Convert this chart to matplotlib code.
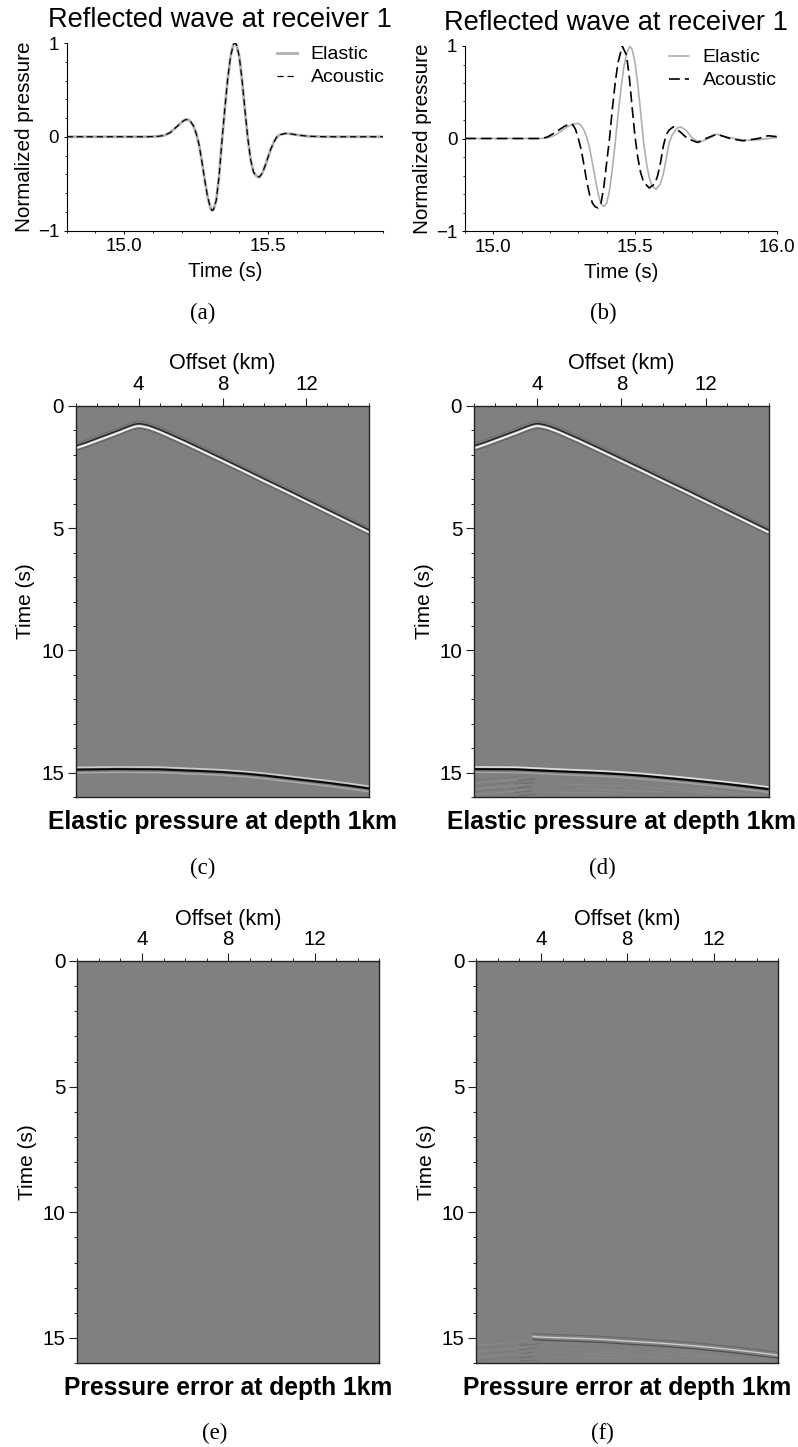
import matplotlib
matplotlib.use('Agg')
import matplotlib.pyplot as plt
from matplotlib.ticker import MultipleLocator, FixedLocator

plt.rcParams['font.family'] = ['Liberation Sans', 'DejaVu Sans']

# waveforms (a) and (b)
time_a = [14.80, 14.90, 15.00, 15.08, 15.10, 15.12, 15.14, 15.16, 15.18, 15.20, 15.21, 15.22, 15.23, 15.24, 15.25, 15.26,
          15.27, 15.28, 15.29, 15.30, 15.305, 15.31, 15.32, 15.33, 15.34, 15.35, 15.36, 15.37, 15.38, 15.385, 15.39,
          15.40, 15.41, 15.42, 15.43, 15.44, 15.45, 15.46, 15.47, 15.48, 15.49, 15.50, 15.51, 15.52, 15.53, 15.54,
          15.56, 15.58, 15.60, 15.64, 15.70, 15.90]
elastic_a = [0, 0, 0, 0, 0.002, 0.005, 0.015, 0.045, 0.10, 0.155, 0.178, 0.185, 0.165, 0.12, 0.04, -0.08,
             -0.26, -0.46, -0.64, -0.76, -0.786, -0.78, -0.68, -0.42, -0.04, 0.30, 0.62, 0.86, 0.985, 1.0, 0.985,
             0.86, 0.60, 0.28, -0.02, -0.25, -0.38, -0.42, -0.43, -0.39, -0.31, -0.22, -0.13, -0.06, -0.005, 0.02,
             0.035, 0.03, 0.02, 0.005, 0, 0]
acoustic_a = list(elastic_a)

time_b_el = [14.90, 15.00, 15.10, 15.17, 15.20, 15.22, 15.24, 15.26, 15.28, 15.30, 15.31, 15.32, 15.33, 15.34, 15.35, 15.36, 15.37, 15.38,
             15.39, 15.40, 15.41, 15.42, 15.43, 15.44, 15.45, 15.46, 15.47, 15.482, 15.49, 15.50, 15.51, 15.52, 15.53, 15.54,
             15.55, 15.56, 15.574, 15.59, 15.60, 15.61, 15.62, 15.63, 15.64, 15.65, 15.661, 15.68, 15.70, 15.726, 15.76, 15.788, 15.82,
             15.85, 15.894, 15.94, 15.99, 16.0]
elastic_b = [0, 0, 0, 0, 0.015, 0.04, 0.08, 0.125, 0.155, 0.163, 0.14, 0.09, 0.01, -0.11, -0.27, -0.44, -0.60, -0.71,
             -0.736, -0.70, -0.56, -0.33, -0.05, 0.25, 0.53, 0.76, 0.92, 1.0, 0.96, 0.82, 0.58, 0.28, -0.03, -0.26,
             -0.42, -0.51, -0.55, -0.49, -0.38, -0.22, -0.05, 0.03, 0.08, 0.115, 0.126, 0.09, 0.01, -0.043, 0.0, 0.047, 0.02,
             0.0, -0.02, -0.012, 0.008, 0.01]
time_b_ac = [14.90, 15.00, 15.10, 15.17, 15.19, 15.21, 15.23, 15.25, 15.27, 15.28, 15.29, 15.30, 15.31, 15.32, 15.33, 15.34, 15.35, 15.36,
             15.37, 15.38, 15.39, 15.40, 15.41, 15.42, 15.43, 15.44, 15.455, 15.47, 15.48, 15.49, 15.50, 15.51, 15.52, 15.53,
             15.55, 15.57, 15.58, 15.59, 15.60, 15.61, 15.62, 15.635, 15.66, 15.685, 15.72, 15.75, 15.788, 15.835, 15.88, 15.935, 15.97, 16.0]
acoustic_b = [0, 0, 0, 0, 0.015, 0.05, 0.09, 0.13, 0.16, 0.15, 0.10, 0.0, -0.12, -0.29, -0.47, -0.61, -0.70, -0.74,
              -0.75, -0.70, -0.52, -0.26, 0.0, 0.32, 0.60, 0.82, 1.0, 0.90, 0.66, 0.33, 0.02, -0.21, -0.37, -0.47,
              -0.535, -0.49, -0.40, -0.26, -0.08, 0.04, 0.09, 0.126, 0.07, 0.0, -0.043, 0.0, 0.047, 0.0, -0.025, 0.0, 0.03, 0.02]

# picked events in the shot gathers, offset (km) and time (s)
direct_off = [1, 1.5, 2, 2.5, 3, 3.5, 3.8, 4, 4.2, 4.5, 5, 5.5, 6, 7, 8, 9, 10, 11, 12, 13, 14, 15]
direct_t = [1.74, 1.60, 1.44, 1.28, 1.12, 0.95, 0.86, 0.83, 0.85, 0.91, 1.07, 1.26, 1.45, 1.85, 2.26, 2.67, 3.09, 3.50, 3.92, 4.34, 4.76, 5.18]
refl_off = [1, 3, 5, 7, 8, 9, 10, 11, 12, 13, 14, 15]
refl_c_t = [14.87, 14.85, 14.86, 14.93, 14.97, 15.03, 15.11, 15.21, 15.31, 15.41, 15.52, 15.64]
refl_d_t = [14.85, 14.86, 14.94, 15.01, 15.06, 15.12, 15.20, 15.28, 15.37, 15.46, 15.56, 15.67]
err_off = [3.6, 4, 5, 6, 7, 8, 9, 10, 11, 12, 13, 14, 15]
err_t = [14.94, 14.97, 15.0, 15.03, 15.07, 15.13, 15.18, 15.24, 15.31, 15.39, 15.48, 15.58, 15.69]

# faint ripples in (d) and (f): (offset start, offset end, time start, time end)
ripples_left = [(1, 3.4, 15.30, 15.12), (1, 3.4, 15.42, 15.24), (1, 3.4, 15.54, 15.36), (1, 3.4, 15.66, 15.48),
                (1, 3.4, 15.78, 15.60), (1, 3.4, 15.90, 15.72)]
ripples_streak = [(3.1, 3.9, 15.30, 15.24), (3.0, 3.8, 15.46, 15.40), (3.1, 3.7, 15.62, 15.56), (3.0, 3.7, 15.80, 15.74),
                  (3.1, 3.9, 15.92, 15.88)]
ripples_right = [(5, 8, 15.45, 15.52), (6, 10, 15.65, 15.78), (9, 12.5, 15.58, 15.86), (10, 13.5, 15.52, 15.90),
                 (11.5, 14.5, 15.66, 15.92), (4.5, 8, 15.78, 15.84)]
ripples_mid = [(6, 15, 4.2, 7.9), (7, 15, 5.6, 8.6), (9, 15, 7.2, 9.6), (6, 13, 6.6, 9.0), (5, 12, 8.4, 10.6), (8, 15, 9.4, 11.8)]

offset_ticks = [4, 8, 12]
time_ticks = [0, 5, 10, 15]
W, H = 798, 1447


def make_axes(x0, x1, y0, y1):
    return fig.add_axes([x0 / W, 1 - y1 / H, (x1 - x0) / W, (y1 - y0) / H])


def wave_panel(ax, xlim, xmajor, t_el, y_el, t_ac, y_ac, lw_el, lw_ac, dash, leg_anchor):
    ax.plot(t_el, y_el, color='#b0b0b0', lw=lw_el, label='Elastic')
    ax.plot(t_ac, y_ac, color='black', lw=lw_ac, ls=(0, dash), label='Acoustic')
    ax.set_xlim(*xlim)
    ax.set_ylim(-1, 1)
    ax.spines['top'].set_visible(False)
    ax.spines['right'].set_visible(False)
    ax.xaxis.set_major_locator(FixedLocator(xmajor))
    ax.xaxis.set_minor_locator(MultipleLocator(0.1))
    ax.set_xticklabels(['%.1f' % v for v in xmajor])
    ax.set_yticks([-1, 0, 1])
    ax.set_yticklabels(['\u22121', '0', '1'])
    ax.yaxis.set_minor_locator(MultipleLocator(0.2))
    ax.tick_params(which='major', length=2.5, width=0.7, labelsize=13.5, pad=3)
    ax.tick_params(which='minor', length=1.5, width=0.6)
    ax.set_xlabel('Time (s)', fontsize=14.8, labelpad=5)
    ax.set_ylabel('Normalized pressure', fontsize=14.9, labelpad=3)
    ax.set_title('Reflected wave at receiver 1', fontsize=19.6, pad=11.5, x=0.485)
    ax.legend(frameon=False, fontsize=14, loc='upper right', bbox_to_anchor=leg_anchor, labelspacing=0.28,
              handlelength=1.05, handletextpad=0.7, borderpad=0, borderaxespad=0)


def event(ax, off, t, shifts, colors, widths):
    for s, c, w in zip(shifts, colors, widths):
        ax.plot(off, [v + s for v in t], color=c, lw=w, solid_capstyle='butt')


def ripples(ax, rows, color, lw=0.6):
    for o0, o1, t0, t1 in rows:
        ax.plot([o0, o1], [t0, t1], color=color, lw=lw)


def gather_panel(ax, caption, cap_y):
    ax.set_facecolor('#808080')
    ax.set_xlim(1, 15)
    ax.set_ylim(16, 0)
    ax.xaxis.tick_top()
    ax.xaxis.set_label_position('top')
    ax.set_xticks(offset_ticks)
    ax.xaxis.set_minor_locator(MultipleLocator(1))
    ax.set_yticks(time_ticks)
    ax.yaxis.set_minor_locator(MultipleLocator(1))
    ax.tick_params(which='major', length=5.5, width=0.8, labelsize=14.8, pad=3, color='#222222')
    ax.tick_params(which='minor', length=2.5, width=0.7, color='#222222')
    ax.set_xlabel('Offset (km)', fontsize=15.6, labelpad=4)
    ax.set_ylabel('Time (s)', fontsize=15, labelpad=4)
    ax.set_title(caption, fontsize=17.7, fontweight='bold', y=cap_y, pad=0)
    for sp in ax.spines.values():
        sp.set_color('#222222')
        sp.set_linewidth(1.0)


fig = plt.figure(figsize=(W / 100, H / 100), dpi=100)

ax_a = make_axes(66.7, 383, 43, 230.5)
wave_panel(ax_a, (14.8, 15.9), [15.0, 15.5], time_a, elastic_a, time_a, acoustic_a, 2.0, 0.9, (5, 3), (1.005, 0.985))
ax_b = make_axes(465, 776.7, 46, 231)
wave_panel(ax_b, (14.9, 16.0), [15.0, 15.5, 16.0], time_b_el, elastic_b, time_b_ac, acoustic_b, 1.2, 1.2, (6.5, 3), (1.0, 0.985))

direct_shifts = [-0.2, -0.1, 0.0, 0.1]
direct_colors = ['#6e6e6e', '#222222', '#f6f6f6', '#5e5e5e']
direct_widths = [0.8, 1.0, 1.3, 0.7]
refl_shifts = [-0.09, 0.0, 0.13]
refl_colors = ['#cccccc', '#0a0a0a', '#a8a8a8']
refl_widths = [1.2, 1.5, 1.1]

ax_c = make_axes(75.7, 369.3, 405.7, 797.3)
gather_panel(ax_c, 'Elastic pressure at depth 1km', -0.081)
event(ax_c, direct_off, direct_t, direct_shifts, direct_colors, direct_widths)
event(ax_c, refl_off, refl_c_t, refl_shifts, refl_colors, refl_widths)

ax_d = make_axes(474, 768.7, 405.7, 797.3)
gather_panel(ax_d, 'Elastic pressure at depth 1km', -0.081)
ripples(ax_d, ripples_mid, '#838383')
event(ax_d, direct_off, direct_t, direct_shifts, direct_colors, direct_widths)
ripples(ax_d, ripples_left, '#909090')
ripples(ax_d, ripples_left[::2], '#727272')
ripples(ax_d, ripples_streak, '#6a6a6a', 0.8)
ripples(ax_d, ripples_right, '#8c8c8c')
event(ax_d, refl_off, refl_d_t, refl_shifts, ['#e0e0e0', '#050505', '#a0a0a0'], refl_widths)

ax_e = make_axes(77.3, 379.3, 961, 1363)
gather_panel(ax_e, 'Pressure error at depth 1km', -0.079)

ax_f = make_axes(476.3, 778.3, 961, 1363)
gather_panel(ax_f, 'Pressure error at depth 1km', -0.079)
ripples(ax_f, ripples_mid, '#838383')
ripples(ax_f, ripples_left, '#8a8a8a')
ripples(ax_f, ripples_left[1::2], '#767676')
ripples(ax_f, ripples_streak, '#707070', 0.8)
ripples(ax_f, ripples_right, '#888888')
event(ax_f, err_off, err_t, [-0.12, 0.0, 0.12], ['#686868', '#cccccc', '#505050'], [0.8, 1.0, 0.9])

captions = ['(a)', '(b)', '(c)', '(d)', '(e)', '(f)']
cap_x = [203, 603, 203, 602, 215, 602]
cap_y = [313, 313, 868, 868, 1433, 1433]
for s, x, y in zip(captions, cap_x, cap_y):
    fig.text(x / W, 1 - y / H, s, family='Liberation Serif', fontsize=16.5, ha='center', va='center')

fig.savefig('out.png', dpi=100)
